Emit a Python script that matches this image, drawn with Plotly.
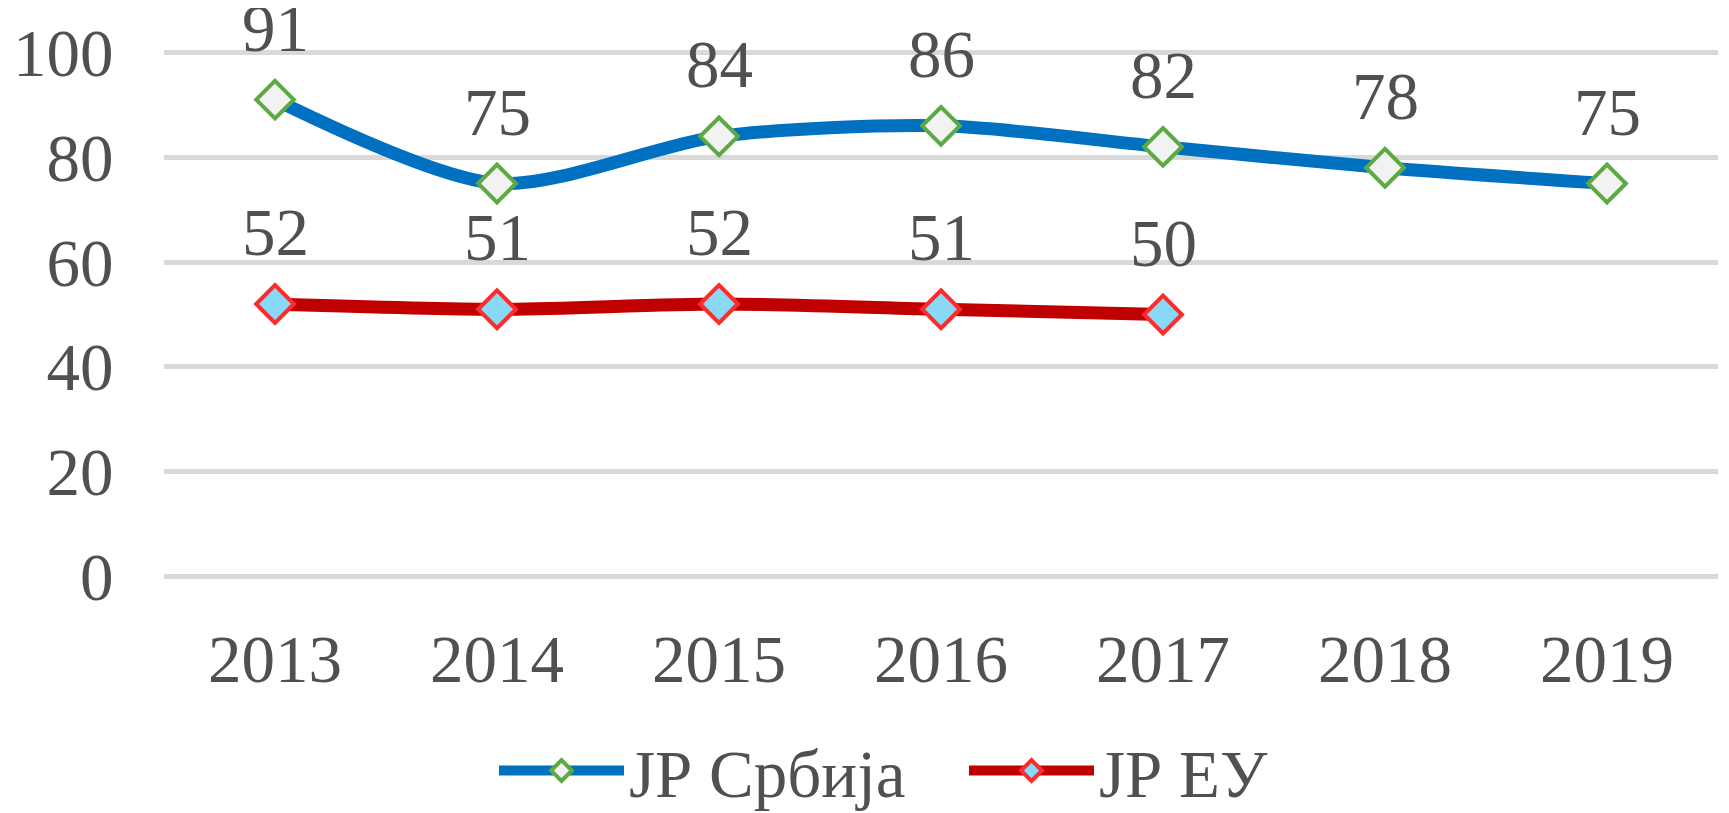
import plotly.graph_objects as go

years = ["2013", "2014", "2015", "2016", "2017", "2018", "2019"]
serbia = [91, 75, 84, 86, 82, 78, 75]
eu_years = ["2013", "2014", "2015", "2016", "2017"]
eu = [52, 51, 52, 51, 50]
y_ticks = [0, 20, 40, 60, 80, 100]

TXT = "#505050"
FONT = "Liberation Serif"
FS = 67
# the page body adds an 8px offset, so the figure is 8px smaller than the window
W, H = 1721, 805
Y_TOP = 100.4
y0_px, per_unit = 568.5, 5.24
L_MARGIN, R_MARGIN = 156, 11

fig = go.Figure()
fig.add_trace(go.Scatter(
    x=years, y=serbia, name="ЈР Србија", mode="lines+markers",
    line=dict(color="#0070C0", width=13, shape="spline", smoothing=0.8),
    marker=dict(symbol="diamond", size=29, color="#F2F2F2",
                line=dict(color="#5DAA45", width=4)),
    cliponaxis=False,
))
fig.add_trace(go.Scatter(
    x=eu_years, y=eu, name="ЈР ЕУ", mode="lines+markers",
    line=dict(color="#C00000", width=13, shape="spline", smoothing=0.8),
    marker=dict(symbol="diamond", size=29, color="#8AD8F8",
                line=dict(color="#FF2B2B", width=4)),
    cliponaxis=False,
))

for xs, ys in ((years, serbia), (eu_years, eu)):
    for xv, yv in zip(xs, ys):
        fig.add_annotation(x=years.index(xv), y=yv, text=str(yv), showarrow=False,
                           yshift=72, yanchor="middle",
                           font=dict(family=FONT, size=FS, color=TXT))

plot_w = W - L_MARGIN - R_MARGIN
fig.update_layout(
    width=W, height=H,
    margin=dict(l=L_MARGIN, r=R_MARGIN, t=0, b=0, autoexpand=False),
    paper_bgcolor="white", plot_bgcolor="white",
    font=dict(family=FONT, size=FS, color=TXT),
    showlegend=True,
    legend=dict(orientation="h", x=(486 - L_MARGIN) / plot_w, xanchor="left",
                y=1 - 763 / H, yanchor="middle",
                font=dict(family=FONT, size=FS, color=TXT),
                itemwidth=125, entrywidth=330, entrywidthmode="pixels",
                bgcolor="rgba(0,0,0,0)"),
)
fig.update_xaxes(type="category", categoryorder="array", categoryarray=years,
                 range=[-0.5, 6.5], showgrid=False, showline=False, zeroline=False,
                 ticks="outside", ticklen=24, tickcolor="rgba(0,0,0,0)",
                 tickfont=dict(family=FONT, size=FS, color=TXT))
fig.update_yaxes(range=[0, Y_TOP], tickvals=y_ticks,
                 domain=[1 - y0_px / H, 1 - (y0_px - Y_TOP * per_unit) / H],
                 showgrid=True, gridcolor="#D9D9D9",
                 gridwidth=5, zeroline=True, zerolinecolor="#D9D9D9", zerolinewidth=5,
                 showline=False, ticks="outside", ticklen=36, tickcolor="rgba(0,0,0,0)",
                 tickfont=dict(family=FONT, size=FS, color=TXT))

fig.write_html("out.html")
